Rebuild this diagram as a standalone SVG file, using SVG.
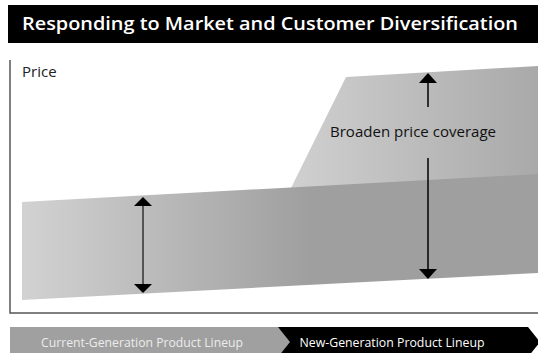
<svg xmlns="http://www.w3.org/2000/svg" width="538" height="353" viewBox="0 0 538 353">
<defs>
<style>
.t{font-family:"Open Sans","Noto Sans","DejaVu Sans",sans-serif;}
.ax{stroke:#555;stroke-width:1.5;fill:none}
.arr{stroke:#333;stroke-width:1.5;fill:none}
</style>
<linearGradient id="gLow" gradientUnits="userSpaceOnUse" x1="22" y1="0" x2="310" y2="0">
<stop offset="0" stop-color="#d2d2d2"/>
<stop offset="1" stop-color="#9f9f9f"/>
</linearGradient>
<linearGradient id="gUp" gradientUnits="userSpaceOnUse" x1="290" y1="0" x2="538" y2="0">
<stop offset="0" stop-color="#d0d0d0"/>
<stop offset="1" stop-color="#a9a9a9"/>
</linearGradient>
</defs>
<rect width="538" height="353" fill="#fff"/>
<g id="title">
<rect x="8" y="5" width="530" height="38" fill="#000"/>
<text class="t" x="22" y="30" font-size="18.5" font-weight="600" fill="#fff" textLength="496" lengthAdjust="spacingAndGlyphs">Responding to Market and Customer Diversification</text>
</g>
<g id="axes">
<path class="ax" d="M10 60 V313 H538"/>
<text class="t" x="22" y="77" font-size="15" fill="#222">Price</text>
</g>
<g id="newRange">
<polygon points="346,77 538,66 538,180 290,190" fill="url(#gUp)"/>
</g>
<g id="currentRange">
<polygon points="22,202 538,174 538,273 22,300" fill="url(#gLow)"/>
</g>
<g id="connectors">
<line class="arr" x1="143" y1="204" x2="143" y2="286"/>
<polygon points="143,197 134,206 152,206" fill="#000"/>
<polygon points="143,293 134,284 152,284" fill="#000"/>
<line x1="428" y1="80" x2="428" y2="107" stroke="#000" stroke-width="1.5"/>
<polygon points="428,73 419,83 437,83" fill="#000"/>
<line x1="428" y1="158" x2="428" y2="272" stroke="#000" stroke-width="1.5"/>
<polygon points="428,279 419,269 437,269" fill="#000"/>
</g>
<g id="label">
<text class="t" x="413" y="137" font-size="15" fill="#111" text-anchor="middle" textLength="166" lengthAdjust="spacingAndGlyphs">Broaden price coverage</text>
</g>
<g id="newGen">
<polygon points="270,327 528,327 540,342 528,357 270,357" fill="#000"/>
<text class="t" x="392" y="347" font-size="12" fill="#fff" text-anchor="middle" textLength="185" lengthAdjust="spacingAndGlyphs">New-Generation Product Lineup</text>
</g>
<g id="currentGen">
<polygon points="10,327 278,327 290,342 278,357 10,357" fill="#a0a0a0"/>
<text class="t" x="142" y="347" font-size="12" fill="#ececec" text-anchor="middle" textLength="202" lengthAdjust="spacingAndGlyphs">Current-Generation Product Lineup</text>
</g>
</svg>
